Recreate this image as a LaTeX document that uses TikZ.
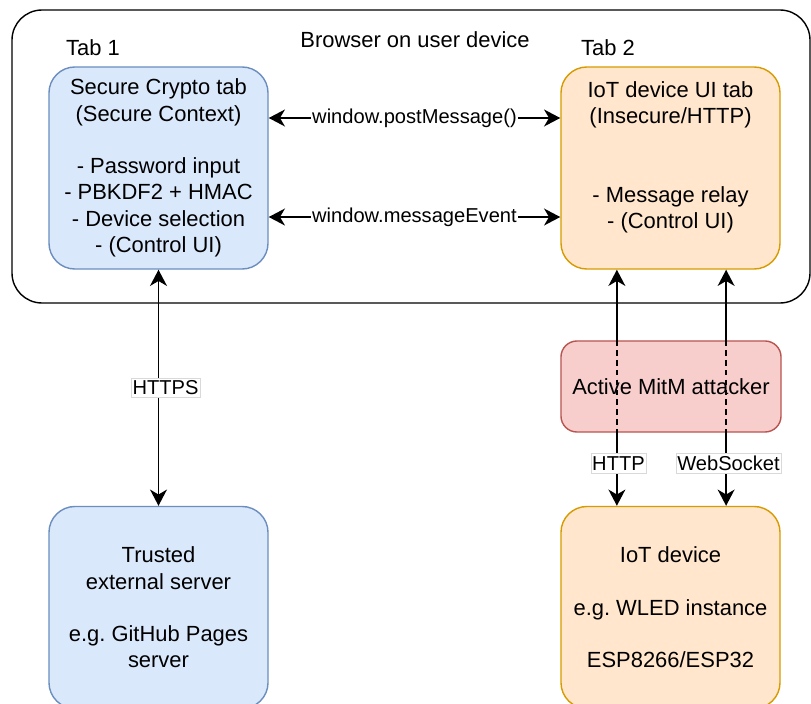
\documentclass[tikz,border=0pt]{standalone}
\usepackage{fontspec}
\setmainfont{Liberation Sans}
\usetikzlibrary{arrows.meta}
\definecolor{blueFill}{HTML}{DAE8FC}
\definecolor{blueLine}{HTML}{6C8EBF}
\definecolor{orangeFill}{HTML}{FFE6CC}
\definecolor{orangeLine}{HTML}{D79B00}
\definecolor{redFill}{HTML}{F8CECC}
\definecolor{redLine}{HTML}{B85450}
\def\boxfont{\fontsize{15.6}{18.7}\selectfont}
\def\lblfont{\fontsize{14.3}{17}\selectfont}

\begin{document}
\begin{tikzpicture}[x=0.025cm, y=-0.025cm,
		tabbox/.style={rounded corners=0.65cm, line width=1pt, minimum width=5.475cm, minimum height=5.05cm, align=center, font=\boxfont, inner sep=0pt},
		bluebox/.style={tabbox, fill=blueFill, draw=blueLine},
		orangebox/.style={tabbox, fill=orangeFill, draw=orangeLine},
		mitmbox/.style={rounded corners=0.4cm, line width=1pt, minimum width=5.5cm, minimum height=2.275cm, font=\boxfont, fill=redFill, draw=redLine},
		msg/.style={line width=1.3pt, {Stealth[length=11.5pt,width=12pt,inset=3.5pt]}-{Stealth[length=11.5pt,width=12pt,inset=3.5pt]}},
		tapped/.style={line width=1.3pt, dash pattern=on 4pt off 3pt},
		lbl/.style={fill=white, font=\lblfont, inner xsep=1pt, inner ysep=2pt},
		lblbox/.style={lbl, draw=black!15, line width=0.4pt}]
	%%%%% START %%%%%
	
	\useasboundingbox (0,0) rectangle (811,704);
	\draw[line width=1pt, rounded corners=0.75cm] (12,10) rectangle (810,303);
	
	\node (browser) at (415,40) {\boxfont Browser on user device};
	\node (tabone) at (93,48) {\boxfont Tab 1};
	\node (tabtwo) at (608,48) {\boxfont Tab 2};
	
	\node[bluebox] (crypto) at (158.5,168) {Secure Crypto tab\\(Secure Context)\\[\baselineskip]- Password input\\- PBKDF2 + HMAC\\- Device selection\\- (Control UI)};
	\node[orangebox] (iotui) at (670.5,168) {IoT device UI tab\\(Insecure/HTTP)\\[2\baselineskip]- Message relay\\- (Control UI)\\[-6pt]\mbox{}\strut};
	
	\node[bluebox] (server) at (158.5,607.5) {Trusted\\external server\\[\baselineskip]e.g.\ GitHub Pages\\server};
	\node[orangebox] (device) at (670.5,607.5) {IoT device\\[\baselineskip]e.g.\ WLED instance\\[\baselineskip]ESP8266/ESP32};
	
	\draw[msg] ([yshift=1.25cm]crypto.east) -- node[lbl] {window.postMessage()} ([yshift=1.25cm]iotui.west);
	\draw[msg] ([yshift=-1.225cm]crypto.east) -- node[lbl] {window.messageEvent} ([yshift=-1.225cm]iotui.west);
	\draw[msg] (crypto) -- node[lblbox, xshift=0.175cm] {HTTPS} (server);
	
	\coordinate (httpx) at ([xshift=-1.34cm]iotui.south);
	\coordinate (wsx) at ([xshift=1.39cm]iotui.south);
	\draw[msg] (httpx) -- node[lblbox, pos=0.82, xshift=0.04cm] {HTTP} (httpx |- device.north);
	\draw[msg] (wsx) -- node[lblbox, pos=0.82, xshift=0.06cm] {WebSocket} (wsx |- device.north);
	
	\node[mitmbox] (mitm) at (671,386.5) {Active MitM attacker};
	\draw[tapped] (mitm.north -| httpx) -- (mitm.south -| httpx);
	\draw[tapped] (mitm.north -| wsx) -- (mitm.south -| wsx);
	
	%%%%% END %%%%%
\end{tikzpicture}
\end{document}
